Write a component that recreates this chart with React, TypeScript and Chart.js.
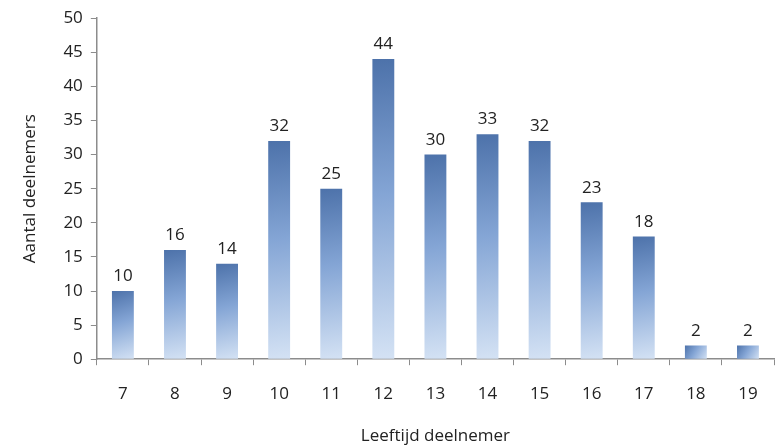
import React, { useEffect, useRef } from "react";
import { Chart, registerables } from "chart.js";

Chart.register(...registerables);

const categories = ["7", "8", "9", "10", "11", "12", "13", "14", "15", "16", "17", "18", "19"];
const values = [10, 16, 14, 32, 25, 44, 30, 33, 32, 23, 18, 2, 2];
const yTicks = [0, 5, 10, 15, 20, 25, 30, 35, 40, 45, 50];
const yTitle = "Aantal deelnemers";
const xTitle = "Leeftijd deelnemer";

const FONT = "'Open Sans', 'DejaVu Sans', sans-serif";
const FS = 17;

const valueLabels = {
  id: "valueLabels",
  afterDatasetsDraw(chart: any) {
    const ctx = chart.ctx;
    const meta = chart.getDatasetMeta(0);
    ctx.save();
    ctx.font = `${FS}px ${FONT}`;
    ctx.fillStyle = "#222";
    ctx.textAlign = "center";
    ctx.textBaseline = "bottom";
    meta.data.forEach((bar: any, i: number) => {
      ctx.fillText(String(values[i]), bar.x, bar.y - 6);
    });
    ctx.restore();
  },
};

export default function App() {
  const ref = useRef<HTMLCanvasElement>(null);
  useEffect(() => {
    if (!ref.current) return;
    const chart = new Chart(ref.current, {
      type: "bar",
      data: {
        labels: categories,
        datasets: [
          {
            data: values,
            barPercentage: 0.42,
            categoryPercentage: 1,
            borderWidth: 0,
            backgroundColor: (c: any) => {
              const ch = c.chart;
              const xs = ch.scales.x;
              const ys = ch.scales.y;
              if (!xs || !ys || c.dataIndex === undefined || xs.width === undefined) return "#6f93c8";
              const cx = xs.getPixelForValue(c.dataIndex);
              const top = ys.getPixelForValue(values[c.dataIndex]);
              const bottom = ys.getPixelForValue(0);
              const w = 22;
              if (!isFinite(cx) || !isFinite(top)) return "#6f93c8";
              const g = ch.ctx.createLinearGradient(cx - w / 2, top, cx + w / 2, bottom);
              g.addColorStop(0, "#4d72aa");
              g.addColorStop(0.45, "#84a5d5");
              g.addColorStop(1, "#d4e2f4");
              return g;
            },
          },
        ],
      },
      options: {
        animation: false,
        responsive: false,
        devicePixelRatio: 1,
        layout: { padding: { top: -3, right: 3, bottom: 0, left: 20 } },
        plugins: {
          legend: { display: false },
          tooltip: { enabled: false },
        },
        scales: {
          x: {
            grid: {
              display: true,
              drawOnChartArea: false,
              drawTicks: true,
              tickLength: 6,
              color: "#8c8c8c",
              offset: true,
            },
            border: { color: "#8c8c8c", width: 1.5 },
            ticks: { color: "#222", font: { family: FONT, size: FS }, padding: 19 },
            title: {
              display: true,
              text: xTitle,
              color: "#222",
              font: { family: FONT, size: FS },
              padding: { top: 2, bottom: 0 },
            },
          },
          y: {
            min: 0,
            max: 50,
            afterBuildTicks: (s: any) => {
              s.ticks = yTicks.map((v) => ({ value: v }));
            },
            grid: {
              display: true,
              drawOnChartArea: false,
              drawTicks: true,
              tickLength: 6,
              color: "#8c8c8c",
            },
            border: { color: "#8c8c8c", width: 1.5 },
            ticks: { color: "#222", font: { family: FONT, size: FS }, padding: 8 },
            title: {
              display: true,
              text: yTitle,
              color: "#222",
              font: { family: FONT, size: FS },
              padding: { top: 0, bottom: 15 },
            },
          },
        },
      },
      plugins: [valueLabels],
    });
    return () => chart.destroy();
  }, []);
  return (
    <div style={{ position: "absolute", left: 0, top: 0, width: 777, height: 446, background: "#fff" }}>
      <canvas ref={ref} width={777} height={446} style={{ width: 777, height: 446 }} />
    </div>
  );
}
